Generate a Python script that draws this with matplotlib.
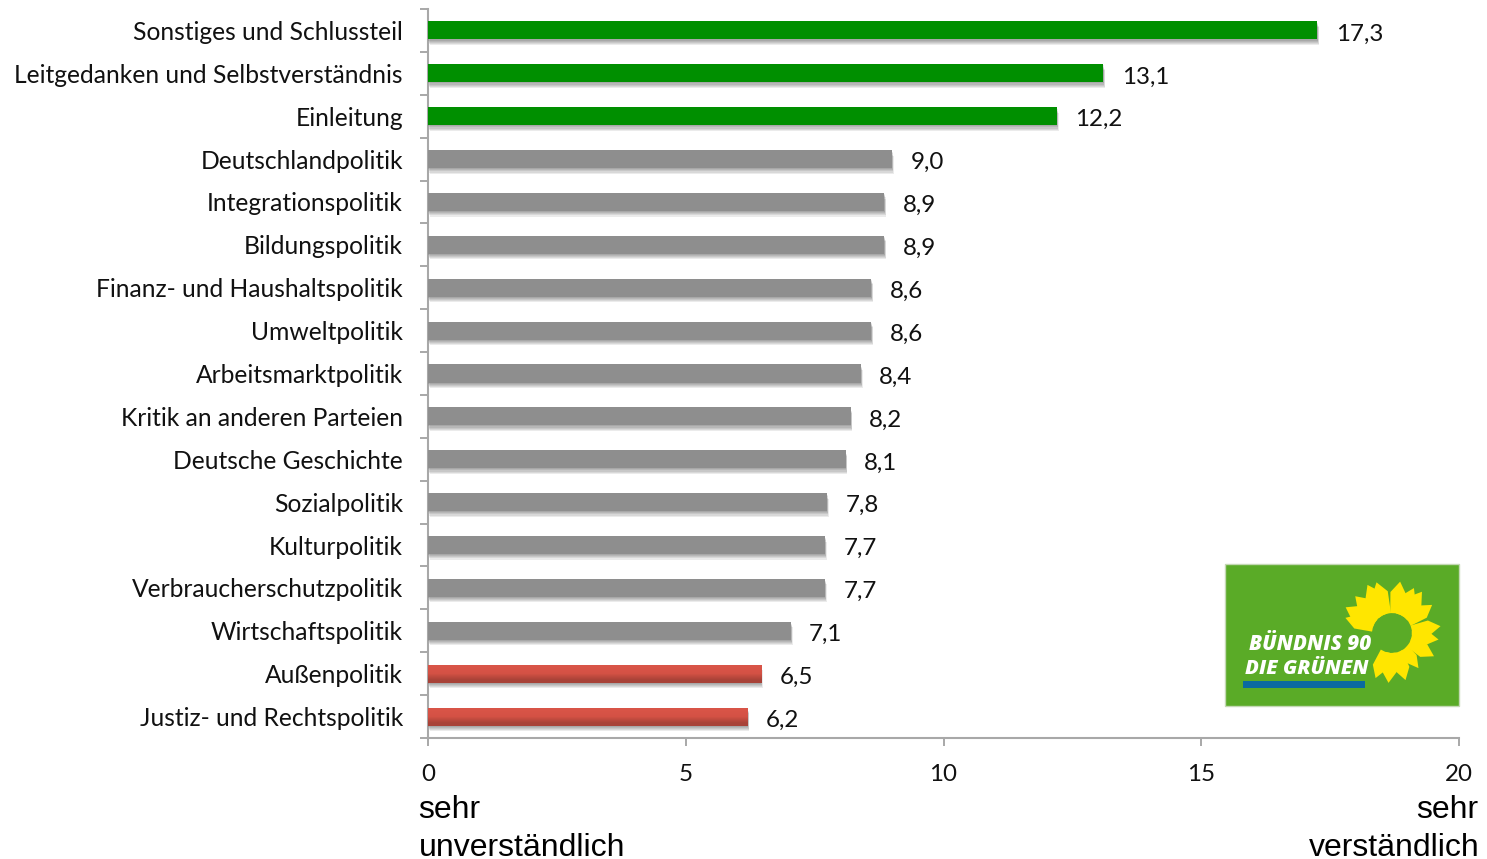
import numpy as np
import matplotlib
matplotlib.use("Agg")
import matplotlib.pyplot as plt
import matplotlib.patheffects as pe
from matplotlib.patches import Rectangle, Polygon
from matplotlib.transforms import ScaledTranslation

topics = ["Sonstiges und Schlussteil", "Leitgedanken und Selbstverständnis", "Einleitung",
          "Deutschlandpolitik", "Integrationspolitik", "Bildungspolitik",
          "Finanz- und Haushaltspolitik", "Umweltpolitik", "Arbeitsmarktpolitik",
          "Kritik an anderen Parteien", "Deutsche Geschichte", "Sozialpolitik",
          "Kulturpolitik", "Verbraucherschutzpolitik", "Wirtschaftspolitik",
          "Außenpolitik", "Justiz- und Rechtspolitik"]
# bar lengths as measured, the printed labels are rounded
scores = [17.25, 13.1, 12.2, 9.0, 8.85, 8.85, 8.6, 8.6, 8.4, 8.2, 8.1, 7.74, 7.7, 7.7, 7.04, 6.46, 6.2]
score_labels = ["17,3", "13,1", "12,2", "9,0", "8,9", "8,9", "8,6", "8,6", "8,4", "8,2", "8,1",
                "7,8", "7,7", "7,7", "7,1", "6,5", "6,2"]
groups = ["top"] * 3 + ["mid"] * 12 + ["low"] * 2
x_ticks = [0, 5, 10, 15, 20]

# sunflower petals of the logo: angle in degrees, tip radius in pixels
petal_angles = [162, 151, 135, 117, 107, 81, 64, 54, 35, 8, -8, -29, -53, -74, -94, -110]
petal_radii = [49, 53, 52, 54, 53, 52, 50, 51, 49, 49, 47, 48, 44, 49, 50, 48]

colors = {"top": "#008f00", "mid": "#8e8e8e", "low": "#c94d42"}
W, H = 1487, 859
LABEL_FONT = "Lato"
AXIS_COLOR = "#a8a8a8"

fig = plt.figure(figsize=(W / 100, H / 100), dpi=100)
ax = fig.add_axes([428 / W, 1 - 738 / H, (1459 - 428) / W, (738 - 9) / H])

y = np.arange(len(topics))
shadow = [pe.SimplePatchShadow(offset=(o * 0.3, -o), shadow_rgbFace="#000000", alpha=0.08)
          for o in (0.8, 1.6, 2.4, 3.2, 4.0)]
bars = ax.barh(y, scores, height=0.42, color=[colors[g] for g in groups], zorder=3)
for b in bars:
    b.set_path_effects(shadow + [pe.Normal()])

# the red bars have a vertical gradient
red_grad = np.array([[[0.85, 0.33, 0.28]], [[0.83, 0.32, 0.27]], [[0.66, 0.26, 0.22]]])
for b, g in zip(bars, groups):
    if g == "low":
        im = ax.imshow(red_grad, extent=[0, b.get_width(), b.get_y() + b.get_height(), b.get_y()],
                       aspect="auto", interpolation="bilinear", zorder=4)
        im.set_clip_path(Rectangle((0, b.get_y()), b.get_width(), b.get_height(), transform=ax.transData))

for i, v in enumerate(scores):
    ax.annotate(score_labels[i], (v, i), xytext=(13.2, -2.6), textcoords="offset points",
                va="center", ha="left", fontsize=17.4, family=LABEL_FONT, color="#111111")

ax.set_xlim(0, 20)
ax.set_ylim(len(topics) - 0.5, -0.5)
ax.set_yticks(y)
ax.set_yticklabels(topics, fontsize=17.7, family=LABEL_FONT, color="#111111")
for lab in ax.get_yticklabels():
    lab.set_transform(lab.get_transform() + ScaledTranslation(-1 / 100, -2.2 / 72, fig.dpi_scale_trans))
ax.set_yticks(np.arange(len(topics) + 1) - 0.5, minor=True)
ax.tick_params(axis="y", which="major", length=0, pad=18)
ax.tick_params(axis="y", which="minor", length=5.5, width=1.4, color=AXIS_COLOR)
ax.set_xticks(x_ticks)
ax.set_xticklabels([str(t) for t in x_ticks], fontsize=17.4, family=LABEL_FONT, color="#111111")
ax.tick_params(axis="x", length=5.5, width=1.4, color=AXIS_COLOR, pad=13.5)
ax.spines["top"].set_visible(False)
ax.spines["right"].set_visible(False)
for s in ("left", "bottom"):
    ax.spines[s].set_color(AXIS_COLOR)
    ax.spines[s].set_linewidth(1.5)

for txt, px, py, ha in [("sehr", 418, 818, "left"), ("unverständlich", 418.5, 855.5, "left"),
                        ("sehr", 1478, 818, "right"), ("verständlich", 1480, 855.5, "right")]:
    fig.text(px / W, 1 - py / H, txt, ha=ha, va="baseline", fontsize=23, family="Liberation Sans", color="black")

# logo, drawn on an overlay in pixel coordinates
logo = fig.add_axes([0, 0, 1, 1], facecolor="none")
logo.set_xlim(0, W)
logo.set_ylim(H, 0)
logo.axis("off")
logo.add_patch(Rectangle((1225, 564), 234, 142, facecolor="#5aab27", edgecolor="#c4d8b4", lw=1))
cx, cy = 1392, 633
for a, r in zip(petal_angles, petal_radii):
    t = np.radians(a)
    w = np.radians(14)
    pts = [(cx + 20 * np.cos(t + k * w), cy - 20 * np.sin(t + k * w)) for k in (-1, 0, 1)]
    pts.append((cx + (r - 11) * np.cos(t + w * 0.8), cy - (r - 11) * np.sin(t + w * 0.8)))
    pts.append((cx + r * np.cos(t), cy - r * np.sin(t)))
    pts.append((cx + (r - 11) * np.cos(t - w * 0.8), cy - (r - 11) * np.sin(t - w * 0.8)))
    logo.add_patch(Polygon(pts[:1] + pts[5:2:-1] + pts[2:0:-1], facecolor="#ffe600", edgecolor="none"))
logo.text(1249, 650, "BÜNDNIS 90", fontsize=14.9, family="Open Sans", weight=800, style="italic",
          color="white", ha="left", va="baseline")
logo.text(1245, 674, "DIE GRÜNEN", fontsize=14.7, family="Open Sans", weight=800, style="italic",
          color="white", ha="left", va="baseline")
logo.add_patch(Rectangle((1243, 681), 122, 7, facecolor="#0a6aa0", edgecolor="none"))

fig.savefig("out.png", dpi=100)
